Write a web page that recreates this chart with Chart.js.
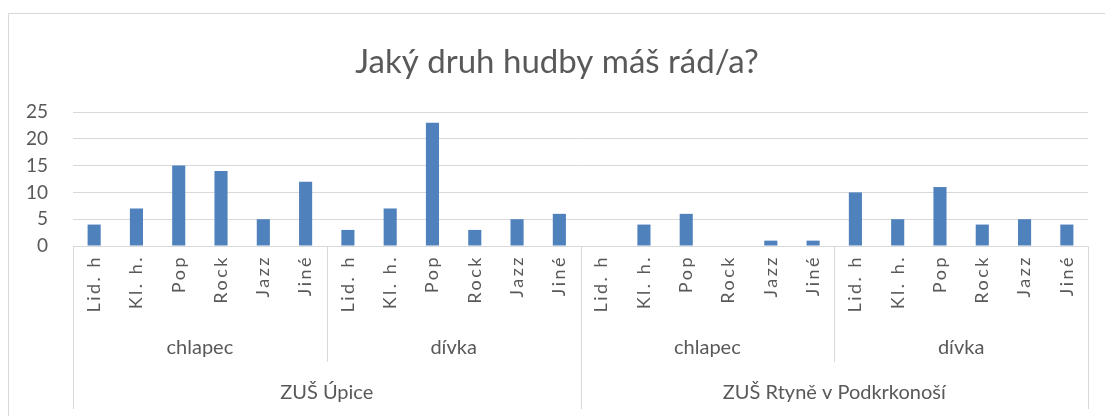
<!DOCTYPE html>
<html>
<head>
<meta charset="utf-8">
<script src="https://cdn.jsdelivr.net/npm/chart.js@4/dist/chart.umd.min.js"></script>
<style>
  body { margin: 0; background: #fff; }
  #wrap { width: 1105px; height: 416px; position: relative; }
</style>
</head>
<body>
<div id="wrap"><canvas id="musicChart"></canvas></div>
<script>
// data
const genres = ['Lid. h', 'Kl. h.', 'Pop', 'Rock', 'Jazz', 'Jiné'];
const genders = ['chlapec', 'dívka', 'chlapec', 'dívka'];
const schools = ['ZUŠ Úpice', 'ZUŠ Rtyně v Podkrkonoší'];

const upiceBoys = [4, 7, 15, 14, 5, 12];
const upiceGirls = [3, 7, 23, 3, 5, 6];
const rtyneBoys = [0, 4, 6, 0, 1, 1];
const rtyneGirls = [10, 5, 11, 4, 5, 4];

const yTicks = [0, 5, 10, 15, 20, 25];

const labels = [];
genders.forEach(() => genres.forEach(g => labels.push(g)));
const values = [...upiceBoys, ...upiceGirls, ...rtyneBoys, ...rtyneGirls];

const textColor = '#595959';
const lineColor = '#d9d9d9';
const fontFamily = 'Lato, "Open Sans", sans-serif';

// draws the frame, the title and the Excel-style multi level category axis
const multiLevelAxis = {
  id: 'multiLevelAxis',
  beforeDraw(chart) {
    const ctx = chart.ctx;
    ctx.save();
    ctx.strokeStyle = lineColor;
    ctx.lineWidth = 1;
    ctx.strokeRect(8.5, 13.5, 1200, 500);
    ctx.restore();
  },
  afterDraw(chart) {
    const ctx = chart.ctx;
    const x = chart.scales.x;
    const area = chart.chartArea;
    const slot = x.getPixelForValue(1) - x.getPixelForValue(0);
    const base = area.bottom;

    ctx.save();
    // title
    ctx.fillStyle = textColor;
    ctx.font = '33px ' + fontFamily;
    ctx.textAlign = 'center';
    ctx.textBaseline = 'middle';
    ctx.fillText('Jaký druh hudby máš rád/a?', 557, 62);

    // inner rotated labels
    ctx.font = '18px ' + fontFamily;
    ctx.letterSpacing = '2.5px';
    labels.forEach((lab, i) => {
      const px = x.getPixelForValue(i);
      ctx.save();
      ctx.translate(px, base + 9);
      ctx.rotate(-Math.PI / 2);
      ctx.textAlign = 'right';
      ctx.textBaseline = 'middle';
      ctx.fillText(lab, 0, 0);
      ctx.restore();
    });
    ctx.letterSpacing = '0px';

    // separators
    ctx.strokeStyle = lineColor;
    ctx.lineWidth = 1;
    for (let g = 0; g <= genders.length; g++) {
      const bx = Math.round(x.getPixelForValue(g * genres.length) - slot / 2) + 0.5;
      const outer = g % 2 === 0;
      ctx.beginPath();
      ctx.moveTo(bx, base);
      ctx.lineTo(bx, outer ? 409 : 362);
      ctx.stroke();
    }

    // gender labels
    ctx.font = '20px ' + fontFamily;
    ctx.textAlign = 'center';
    ctx.textBaseline = 'middle';
    genders.forEach((gl, g) => {
      const cx = (x.getPixelForValue(g * 6) + x.getPixelForValue(g * 6 + 5)) / 2;
      ctx.fillText(gl, cx, 348);
    });

    // school labels
    schools.forEach((s, k) => {
      const cx = (x.getPixelForValue(k * 12) + x.getPixelForValue(k * 12 + 11)) / 2;
      ctx.fillText(s, cx, 393);
    });
    ctx.restore();
  }
};

new Chart(document.getElementById('musicChart'), {
  type: 'bar',
  data: {
    labels: labels,
    datasets: [{
      data: values,
      backgroundColor: '#4f81bd',
      borderWidth: 0,
      barPercentage: 0.31,
      categoryPercentage: 1
    }]
  },
  options: {
    responsive: true,
    maintainAspectRatio: false,
    animation: false,
    layout: { padding: { top: 112, bottom: 170, left: 0, right: 17 } },
    plugins: {
      legend: { display: false },
      title: { display: false },
      tooltip: { enabled: false }
    },
    scales: {
      x: { display: false },
      y: {
        min: 0,
        max: 25,
        afterFit(scale) { scale.width = 73; },
        afterBuildTicks(scale) { scale.ticks = yTicks.map(v => ({ value: v })); },
        border: { display: false },
        grid: { color: lineColor, lineWidth: 1, drawTicks: false },
        ticks: {
          padding: 25,
          color: textColor,
          font: { size: 19, family: fontFamily }
        }
      }
    }
  },
  plugins: [multiLevelAxis]
});
</script>
</body>
</html>
